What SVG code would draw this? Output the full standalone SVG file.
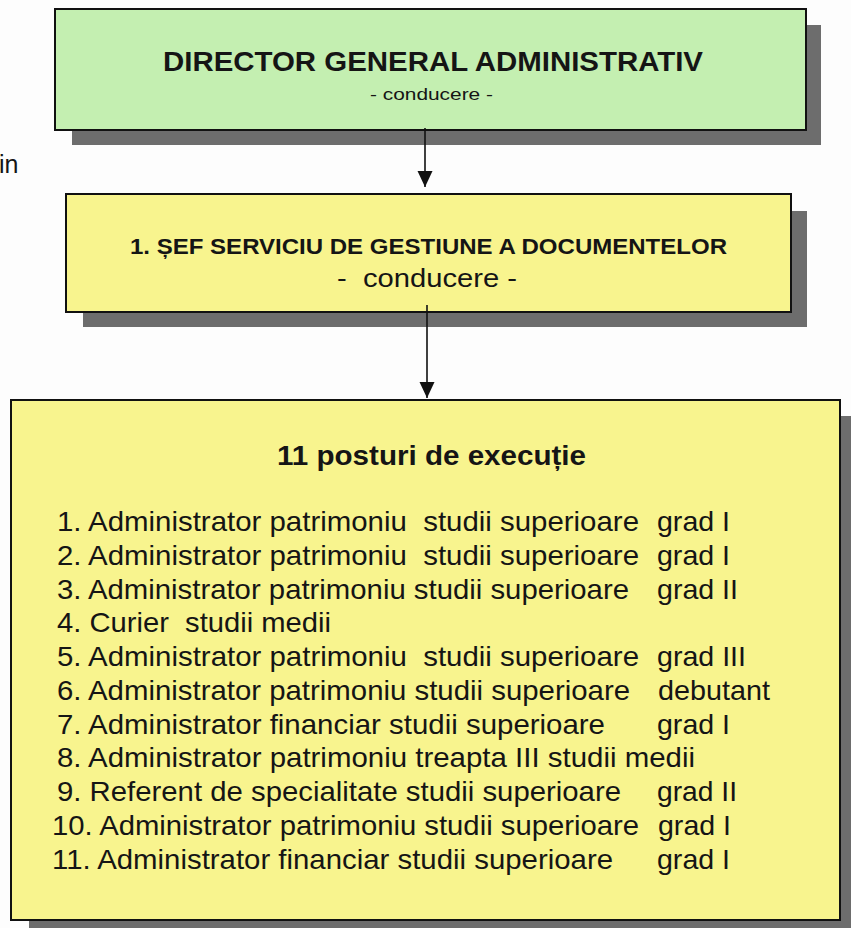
<svg xmlns="http://www.w3.org/2000/svg" width="851" height="928" viewBox="0 0 851 928">
<style>
  text { font-family: "Liberation Sans", Arial, sans-serif; fill: #151515; white-space: pre; }
  .b { font-weight: bold; }
  .li { font-size: 28px; }
  .shadow { fill: #6d6d6d; }
  .box { stroke: #111; stroke-width: 2; }
  .green { fill: #c4efb1; }
  .yellow { fill: #f8f48e; }
  .conn { stroke: #111; stroke-width: 1.6; fill: none; }
</style>
<defs>
  <marker id="arrow" markerUnits="userSpaceOnUse" markerWidth="16" markerHeight="17" refX="16" refY="7.5" orient="auto">
    <path d="M0,0 L16,7.5 L0,15 Z" fill="#111"/>
  </marker>
</defs>
<rect width="851" height="928" fill="#fdfdfd"/>

<text x="-1" y="173" font-size="25" xml:space="preserve">in</text>

<g id="node-director">
  <rect class="shadow" x="72" y="25" width="749" height="120"/>
  <rect class="box green" x="55" y="9" width="751" height="121"/>
  <text class="b" x="163" y="71" font-size="27" textLength="540" lengthAdjust="spacingAndGlyphs">DIRECTOR GENERAL ADMINISTRATIV</text>
  <text x="370" y="100" font-size="17" textLength="123" lengthAdjust="spacingAndGlyphs" xml:space="preserve">- conducere -</text>
</g>

<g id="node-sef">
  <rect class="shadow" x="83" y="211" width="724" height="116"/>
  <rect class="box yellow" x="66" y="194" width="725" height="118"/>
  <text class="b" x="130" y="254" font-size="22" textLength="597" lengthAdjust="spacingAndGlyphs">1. ȘEF SERVICIU DE GESTIUNE A DOCUMENTELOR</text>
  <text x="337" y="287" font-size="25" textLength="180" lengthAdjust="spacingAndGlyphs" xml:space="preserve">-  conducere -</text>
</g>

<g id="node-posturi">
  <rect class="shadow" x="29" y="416" width="840" height="530"/>
  <rect class="box yellow" x="11" y="400" width="829" height="520"/>
  <text class="b" x="277" y="465" font-size="27" textLength="309" lengthAdjust="spacingAndGlyphs">11 posturi de execuție</text>
  <g class="li">
    <text x="57" y="531" textLength="582" lengthAdjust="spacingAndGlyphs" xml:space="preserve">1. Administrator patrimoniu  studii superioare</text>
    <text x="657" y="531" textLength="73" lengthAdjust="spacingAndGlyphs">grad I</text>
    <text x="57" y="564.75" textLength="582" lengthAdjust="spacingAndGlyphs" xml:space="preserve">2. Administrator patrimoniu  studii superioare</text>
    <text x="657" y="564.75" textLength="73" lengthAdjust="spacingAndGlyphs">grad I</text>
    <text x="57" y="598.5" textLength="572" lengthAdjust="spacingAndGlyphs">3. Administrator patrimoniu studii superioare</text>
    <text x="657" y="598.5" textLength="81" lengthAdjust="spacingAndGlyphs">grad II</text>
    <text x="57" y="632.25" textLength="274" lengthAdjust="spacingAndGlyphs" xml:space="preserve">4. Curier  studii medii</text>
    <text x="57" y="666" textLength="582" lengthAdjust="spacingAndGlyphs" xml:space="preserve">5. Administrator patrimoniu  studii superioare</text>
    <text x="657" y="666" textLength="89" lengthAdjust="spacingAndGlyphs">grad III</text>
    <text x="57" y="699.75" textLength="573" lengthAdjust="spacingAndGlyphs">6. Administrator patrimoniu studii superioare</text>
    <text x="658" y="699.75" textLength="112" lengthAdjust="spacingAndGlyphs">debutant</text>
    <text x="57" y="733.5" textLength="548" lengthAdjust="spacingAndGlyphs">7. Administrator financiar studii superioare</text>
    <text x="657" y="733.5" textLength="73" lengthAdjust="spacingAndGlyphs">grad I</text>
    <text x="57" y="767.25" textLength="638" lengthAdjust="spacingAndGlyphs">8. Administrator patrimoniu treapta III studii medii</text>
    <text x="57" y="801" textLength="564" lengthAdjust="spacingAndGlyphs">9. Referent de specialitate studii superioare</text>
    <text x="657" y="801" textLength="80" lengthAdjust="spacingAndGlyphs">grad II</text>
    <text x="52" y="834.75" textLength="587" lengthAdjust="spacingAndGlyphs">10. Administrator patrimoniu studii superioare</text>
    <text x="658" y="834.75" textLength="73" lengthAdjust="spacingAndGlyphs">grad I</text>
    <text x="52" y="868.5" textLength="561" lengthAdjust="spacingAndGlyphs">11. Administrator financiar studii superioare</text>
    <text x="657" y="868.5" textLength="73" lengthAdjust="spacingAndGlyphs">grad I</text>
  </g>
</g>

<g id="connectors">
  <line class="conn" x1="425" y1="128" x2="425" y2="187" marker-end="url(#arrow)"/>
  <line class="conn" x1="427" y1="305" x2="427" y2="398" marker-end="url(#arrow)"/>
</g>
</svg>
